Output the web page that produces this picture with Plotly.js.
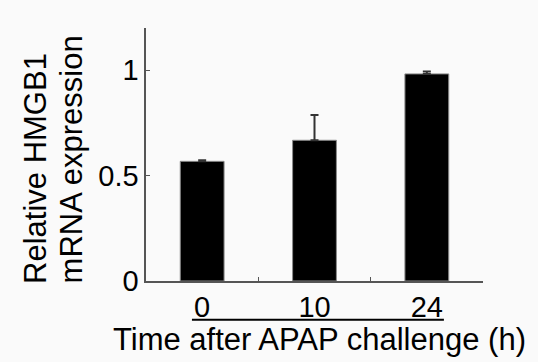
<!DOCTYPE html>
<html><head><meta charset="utf-8">
<script src="https://cdn.plot.ly/plotly-3.0.1.min.js"></script>
<style>html,body{margin:0;padding:0;background:#fafafa;}#chart{width:538px;height:362px;}</style>
</head><body><div id="chart"></div>
<script>
const categories = ['0', '10', '24'];
const values = [0.568, 0.668, 0.983];
const errors = [0.005, 0.12, 0.012];
const yTicks = [0, 0.5, 1];
const yTickLabels = ['0', '0.5', '1'];
const xTitle = 'Time after APAP challenge (h)';
const yTitleLines = ['Relative HMGB1', 'mRNA expression'];

const FONT = 'Liberation Sans, Arial, sans-serif';
const trace = {
  type: 'bar', x: categories, y: values, width: 0.39,
  marker: {color: '#000000', line: {color: '#8a8a8a', width: 1}},
  error_y: {type: 'data', symmetric: false, array: errors, arrayminus: errors.map(() => 0),
            visible: true, color: '#333333', thickness: 2, width: 4}
};
const layout = {
  width: 538, height: 362,
  margin: {l: 146, r: 55, t: 28, b: 81},
  paper_bgcolor: '#fafafa', plot_bgcolor: '#fafafa',
  font: {family: FONT, size: 29, color: '#000'},
  showlegend: false,
  xaxis: {
    type: 'category', range: [-0.5, 2.5], showline: true, linecolor: '#555', linewidth: 1.6,
    ticks: 'inside', tickson: 'boundaries', ticklen: 4, tickcolor: '#555', tickwidth: 1.5,
    tickfont: {size: 29}, showgrid: false, zeroline: false
  },
  yaxis: {
    range: [0, 1.201], showline: true, linecolor: '#555', linewidth: 1.6,
    tickvals: yTicks, ticktext: yTickLabels, ticks: 'inside', ticklen: 4, tickcolor: '#555', tickwidth: 1.5,
    tickfont: {size: 29}, showgrid: false, zeroline: false, ticklabelstandoff: 0
  },
  annotations: [
    {text: xTitle, xref: 'paper', yref: 'paper', x: 0.514, y: -0.2304, xanchor: 'center', yanchor: 'middle',
     showarrow: false, borderpad: 0, font: {size: 31}},
    {text: yTitleLines[0], xref: 'paper', yref: 'paper', x: -0.33, y: -0.0146, xanchor: 'center', yanchor: 'bottom',
     textangle: -90, showarrow: false, borderpad: 0, font: {size: 31}},
    {text: yTitleLines[1], xref: 'paper', yref: 'paper', x: -0.2204, y: -0.0146, xanchor: 'center', yanchor: 'bottom',
     textangle: -90, showarrow: false, borderpad: 0, font: {size: 31}}
  ],
  shapes: [{type: 'line', xref: 'x', yref: 'paper', x0: -0.091, x1: 2.152, y0: -0.153, y1: -0.153,
            line: {color: '#000', width: 2}}]
};
Plotly.newPlot('chart', [trace], layout, {displayModeBar: false, staticPlot: true});
</script></body></html>
